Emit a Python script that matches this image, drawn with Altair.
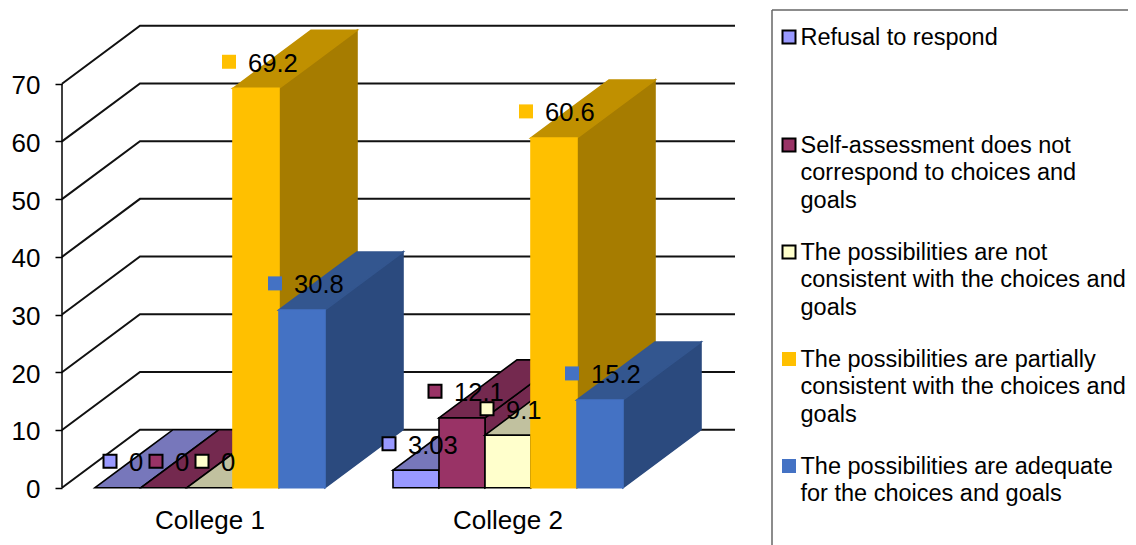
import altair as alt
import pandas as pd

FONT = "Liberation Sans"

categories = ["College 1", "College 2"]
legend_lines = [
    ["Refusal to respond"],
    ["Self-assessment does not", "correspond to choices and", "goals"],
    ["The possibilities are not", "consistent with the choices and", "goals"],
    ["The possibilities are partially", "consistent with the choices and", "goals"],
    ["The possibilities are adequate", "for the choices and goals"],
]
college_1 = [0, 0, 0, 69.2, 30.8]
college_2 = [3.03, 12.1, 9.1, 60.6, 15.2]
value_labels_1 = ["0", "0", "0", "69.2", "30.8"]
value_labels_2 = ["3.03", "12.1", "9.1", "60.6", "15.2"]
y_ticks = [0, 10, 20, 30, 40, 50, 60, 70]

front_colors = ["#9999FF", "#993366", "#FFFFCC", "#FFC000", "#4472C4"]
top_colors = ["#7777BB", "#74294F", "#C1C19F", "#C09000", "#33568F"]
side_colors = ["#6E6EAD", "#74294F", "#B5B594", "#A67C00", "#2B4A7E"]
edge_colors = ["#000000", "#000000", "#000000", None, None]
marker_strokes = ["#000000", "#000000", "#000000", "transparent", "transparent"]
marker_sizes = [169, 169, 169, 196, 196]

# layout of the oblique projection
PLOT_W, PLOT_H = 1066, 537
X_LEFT = 62
BASE = 487.7
UNIT = 404 / 70
group_start = [95, 393]
BAR = 46
DX = 78
DEPTH = 58 / UNIT
WALL_END = 735
y_domain = [-(545 - BASE) / UNIT, (BASE - 8) / UNIT]
x_domain = [X_LEFT, X_LEFT + PLOT_W]
label_lift = 4.6


def page_y(py):
    return (BASE - py) / UNIT


def label_dx(cat, ser, value):
    if value == 0:
        return 15
    if cat == 1 and ser == 2:
        return 2
    return -4 if cat == 0 or ser == 0 or ser == 1 else -5


values = [college_1, college_2]
labels = [value_labels_1, value_labels_2]

faces = []
fid = 0


def add_face(points, fill, stroke):
    global fid
    for (x, y, y2) in points:
        faces.append(dict(face=fid, x=x, y=y, y2=y2, fill=fill, stroke=stroke or fill))
    fid += 1


points_rows = []
for c, start in enumerate(group_start):
    for s, v in enumerate(values[c]):
        x0 = start + s * BAR
        x1 = x0 + BAR
        stroke = edge_colors[s]
        if v > 0:
            add_face([(x1, v, 0), (x1 + DX, v + DEPTH, DEPTH)], side_colors[s], stroke)
        k = DEPTH / DX
        add_face(
            [
                (x0, v, v),
                (x1, v + BAR * k, v),
                (x0 + DX, v + DEPTH, v + (DX - BAR) * k),
                (x1 + DX, v + DEPTH, v + DEPTH),
            ],
            top_colors[s],
            stroke,
        )
        if v > 0:
            add_face([(x0, v, 0), (x1, v, 0)], front_colors[s], stroke)
        points_rows.append(
            dict(
                x=x0 + label_dx(c, s, v),
                y=v + label_lift,
                text=labels[c][s],
                fill=front_colors[s],
                stroke=marker_strokes[s],
                size=marker_sizes[s],
            )
        )

grid_rows = []
for t in y_ticks:
    grid_rows += [
        dict(t=t, i=0, x=X_LEFT, y=t),
        dict(t=t, i=1, x=X_LEFT + DX, y=t + DEPTH),
        dict(t=t, i=2, x=WALL_END, y=t + DEPTH),
    ]

xs = alt.Scale(domain=x_domain, nice=False, zero=False)
ys = alt.Scale(domain=y_domain, nice=False, zero=False)
y_axis = alt.Axis(
    values=y_ticks,
    domain=False,
    grid=False,
    title=None,
    tickColor="#000000",
    tickWidth=1.5,
    tickSize=7,
    labelFont=FONT,
    labelFontSize=26,
    labelColor="#000000",
    labelPadding=15,
    labelOffset=2,
)
X = lambda f="x": alt.X(f"{f}:Q", scale=xs, axis=None)
Y = lambda f="y": alt.Y(f"{f}:Q", scale=ys, axis=y_axis, stack=None)

axis_line = (
    alt.Chart(pd.DataFrame({"a": [y_ticks[0]], "b": [y_ticks[-1]]}))
    .mark_rule(color="#000000", strokeWidth=1.5)
    .encode(x=alt.value(0), y=Y("a"), y2="b:Q")
)

grid = (
    alt.Chart(pd.DataFrame(grid_rows))
    .mark_line(color="#111111", strokeWidth=2)
    .encode(x=X(), y=Y(), detail="t:N", order="i:Q")
)

bars = (
    alt.Chart(pd.DataFrame(faces))
    .mark_area(strokeWidth=1.6, opacity=1)
    .encode(
        x=X(),
        y=Y(),
        y2="y2:Q",
        detail="face:N",
        fill=alt.Fill("fill:N", scale=None),
        stroke=alt.Stroke("stroke:N", scale=None),
    )
)

point_df = pd.DataFrame(points_rows)
markers = (
    alt.Chart(point_df)
    .mark_point(shape="square", filled=True, strokeWidth=2, opacity=1)
    .encode(
        x=X(),
        y=Y(),
        size=alt.Size("size:Q", scale=None),
        fill=alt.Fill("fill:N", scale=None),
        stroke=alt.Stroke("stroke:N", scale=None),
    )
)
value_text = (
    alt.Chart(point_df)
    .mark_text(align="left", baseline="middle", dx=19, dy=2, font=FONT, fontSize=25.6, color="#000000")
    .encode(x=X(), y=Y(), text="text:N")
)

cat_df = pd.DataFrame(
    {"x": [s + 2.5 * BAR for s in group_start], "y": [page_y(521)] * 2, "label": categories}
)
cat_text = (
    alt.Chart(cat_df)
    .mark_text(align="center", baseline="middle", font=FONT, fontSize=26, color="#000000")
    .encode(x=X(), y=Y(), text="label:N")
)

# legend panel
legend_box_left = (
    alt.Chart(pd.DataFrame({"x": [772], "a": [page_y(10)], "b": [page_y(545)]}))
    .mark_rule(color="#666666", strokeWidth=1.5)
    .encode(x=X(), y=Y("a"), y2="b:Q")
)
legend_box_top = (
    alt.Chart(pd.DataFrame({"x": [772], "x2": [X_LEFT + PLOT_W], "y": [page_y(10)]}))
    .mark_rule(color="#666666", strokeWidth=1.5)
    .encode(x=X(), x2="x2:Q", y=Y())
)
legend_top = [37, 145, 252, 359, 466]
line_rows, mark_rows = [], []
for i, lines in enumerate(legend_lines):
    mark_rows.append(
        dict(x=789, y=page_y(legend_top[i]), fill=front_colors[i], stroke=marker_strokes[i], size=marker_sizes[i])
    )
    for j, line in enumerate(lines):
        line_rows.append(dict(x=800.5, y=page_y(legend_top[i] + 1 + j * 27.4), text=line))

legend_marks = (
    alt.Chart(pd.DataFrame(mark_rows))
    .mark_point(shape="square", filled=True, strokeWidth=2, opacity=1)
    .encode(
        x=X(),
        y=Y(),
        size=alt.Size("size:Q", scale=None),
        fill=alt.Fill("fill:N", scale=None),
        stroke=alt.Stroke("stroke:N", scale=None),
    )
)
legend_text = (
    alt.Chart(pd.DataFrame(line_rows))
    .mark_text(align="left", baseline="middle", font=FONT, fontSize=23.5, color="#000000")
    .encode(x=X(), y=Y(), text="text:N")
)

chart = (
    alt.layer(
        grid, axis_line, bars, markers, value_text, cat_text,
        legend_box_left, legend_box_top, legend_marks, legend_text,
    )
    .properties(
        width=PLOT_W,
        height=PLOT_H,
        padding={"left": 54, "top": 0, "right": 0, "bottom": 0},
        autosize=alt.AutoSizeParams(type="none"),
    )
    .configure_view(stroke=None)
)

chart.save("out.html", embed_options={"renderer": "svg", "actions": False})
